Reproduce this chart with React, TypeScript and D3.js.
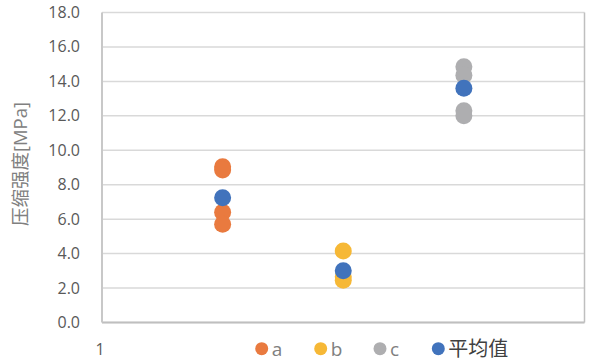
import React from "react";
import * as d3 from "d3";

const yTicks = [0, 2, 4, 6, 8, 10, 12, 14, 16, 18];
const xTickLabels = ["1"];
const seriesNames = ["a", "b", "c", "平均值"];
const seriesColors = ["#E97A3F", "#F6B836", "#AEAEB0", "#4173BC"];
const aX = [1.25, 1.25, 1.25, 1.25];
const aY = [9.05, 8.85, 6.4, 5.7];
const bX = [1.5, 1.5, 1.5];
const bY = [4.15, 2.65, 2.45];
const cX = [1.75, 1.75, 1.75, 1.75];
const cY = [14.85, 14.35, 12.3, 12.0];
const avgX = [1.25, 1.5, 1.75];
const avgY = [7.25, 3.0, 13.6];

const W = 589;
const H = 364;
const font = "'Open Sans', 'Noto Sans CJK SC', sans-serif";

export default function App() {
  const x = d3.scaleLinear().domain([1, 2]).range([102, 584.5]);
  const y = d3.scaleLinear().domain([0, 18]).range([322.5, 12.5]);
  const series = [
    { xs: aX, ys: aY },
    { xs: bX, ys: bY },
    { xs: cX, ys: cY },
    { xs: avgX, ys: avgY },
  ];
  const legendPos = [261.7, 320.7, 380, 438.3];
  return (
    <svg
      width={W}
      height={H}
      style={{ position: "absolute", left: 0, top: 0, background: "#fff" }}
      fontFamily={font}
    >
      {yTicks.map((t) => (
        <line
          key={"g" + t}
          x1={x(1)}
          x2={x(2)}
          y1={y(t)}
          y2={y(t)}
          stroke="#D9D9D9"
          strokeWidth={1.5}
        />
      ))}
      <line x1={x(2)} x2={x(2)} y1={y(18)} y2={y(0)} stroke="#BFBFBF" strokeWidth={1.5} />
      <line x1={x(1)} x2={x(2)} y1={y(0)} y2={y(0)} stroke="#BFBFBF" strokeWidth={2} />
      <line x1={x(1)} x2={x(1)} y1={y(18)} y2={y(0)} stroke="#C8C8C8" strokeWidth={2} />
      {yTicks.map((t) => (
        <text
          key={"t" + t}
          x={80}
          y={y(t) + 5.5}
          textAnchor="end"
          fontSize={16}
          fill="#595959"
        >
          {d3.format(".1f")(t)}
        </text>
      ))}
      {xTickLabels.map((l, i) => (
        <text key={"x" + i} x={x(1) - 2} y={355} textAnchor="middle" fontSize={16} fill="#595959">
          {l}
        </text>
      ))}
      <text
        transform={`translate(27, 164) rotate(-90)`}
        textAnchor="middle"
        fontSize={18.5}
        fill="#808080"
      >
        压缩强度[MPa]
      </text>
      {series.map((s, si) =>
        s.xs.map((xv, i) => (
          <circle
            key={si + "-" + i}
            cx={x(xv)}
            cy={y(s.ys[i])}
            r={8.5}
            fill={seriesColors[si]}
          />
        ))
      )}
      {seriesNames.map((n, i) => (
        <g key={"l" + i}>
          <circle cx={legendPos[i]} cy={348.7} r={6.5} fill={seriesColors[i]} />
          <text
            x={legendPos[i] + 10}
            y={i === 3 ? 356 : 355.5}
            fontSize={i === 3 ? 20 : 19}
            fill={i === 3 ? "#404040" : "#808080"}
          >
            {n}
          </text>
        </g>
      ))}
    </svg>
  );
}
